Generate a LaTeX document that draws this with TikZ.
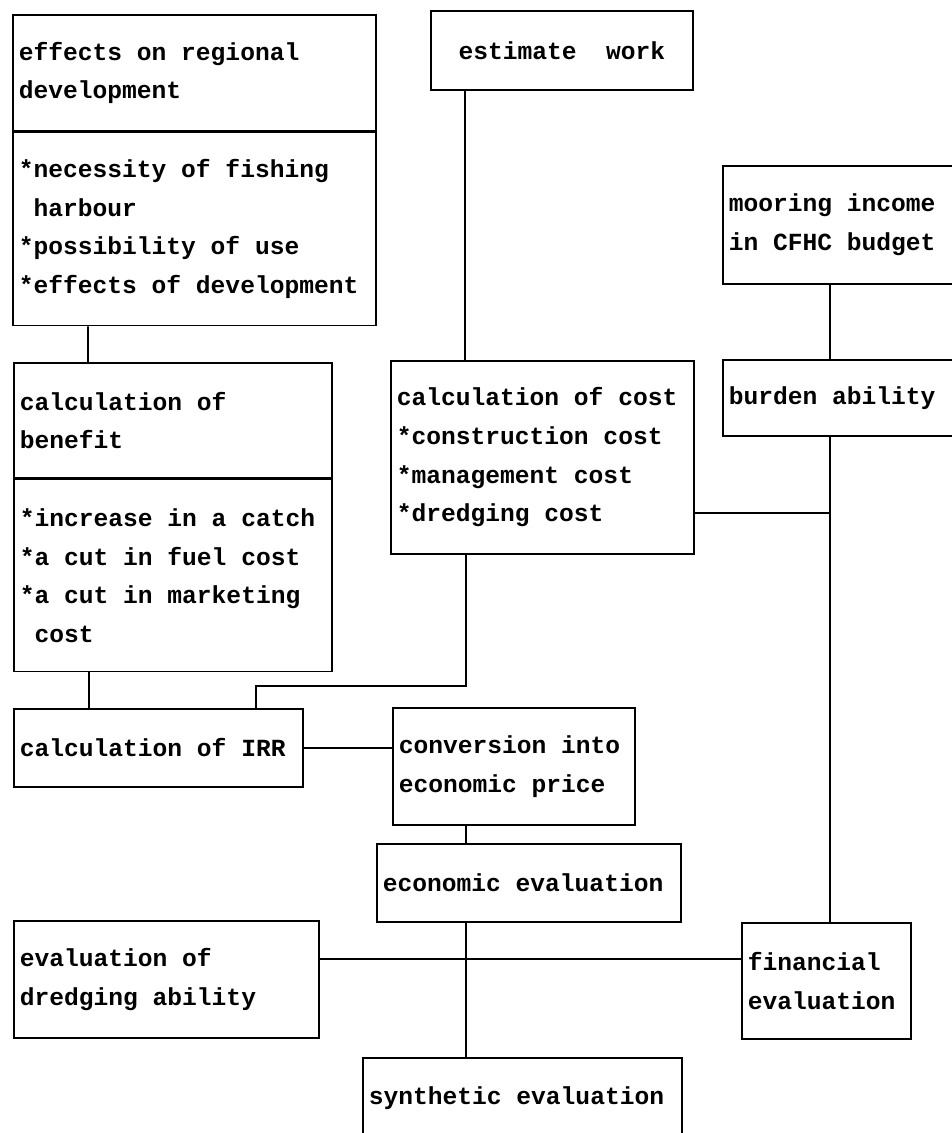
\documentclass[tikz,border=0pt]{standalone}
\usepackage{fontspec}
\setmonofont{Liberation Mono}
\usetikzlibrary{positioning}
\newcommand{\blkfont}{\ttfamily\bfseries\fontsize{14}{22}\selectfont\setlength{\spaceskip}{8.4pt}}
\tikzset{blk/.style={draw,line width=1pt,anchor=north west,align=flush left,inner xsep=0.12cm,inner ysep=0pt,
  font=\blkfont}}
\newcommand{\ind}{\phantom{*}}

\begin{document}
\begin{tikzpicture}[x=0.02cm,y=-0.02cm,line width=1pt]
\useasboundingbox (0,0) rectangle (952,1133);
\clip (0,0) rectangle (952,1133);

\node[blk,text width=7.02cm,minimum height=2.32cm] (efft) at (12,14) {effects on regional\\development};
\node[blk,text width=7.02cm,minimum height=3.86cm] (effi) [below=0pt of efft] {{*}necessity of fishing\\\ind harbour\\{*}possibility of use\\{*}effects of development};

\node[blk,text width=5.0cm,minimum height=1.58cm,align=flush center] (est) at (430,10) {estimate\ \ work};
\node[blk,text width=4.96cm,minimum height=2.36cm] (moor) at (722,165) {mooring income\\in CFHC budget};
\node[blk,text width=4.96cm,minimum height=1.52cm] (burd) at (722,359) {burden ability};

\node[blk,text width=5.82cm,minimum height=3.86cm] (cost) at (390,360) {calculation of cost\\{*}construction cost\\{*}management cost\\{*}dredging cost};

\node[blk,text width=6.12cm,minimum height=2.3cm] (bent) at (13,362) {calculation of\\benefit};
\node[blk,text width=6.12cm,minimum height=3.84cm] (beni) [below=0pt of bent] {{*}increase in a catch\\{*}a cut in fuel cost\\{*}a cut in marketing\\\ind cost};

\node[blk,text width=5.54cm,minimum height=1.56cm] (irr) at (13,708) {calculation of IRR};
\node[blk,text width=4.6cm,minimum height=2.34cm] (conv) at (392,707) {conversion into\\economic price};
\node[blk,text width=5.84cm,minimum height=1.56cm] (econ) at (376,843) {economic evaluation};
\node[blk,text width=5.86cm,minimum height=2.34cm] (dred) at (13,920) {evaluation of\\dredging ability};
\node[blk,text width=3.14cm,minimum height=2.32cm] (fin) at (741,922) {financial\\evaluation};
\node[blk,text width=6.14cm,minimum height=1.6cm] (syn) at (362,1057) {synthetic evaluation};

\coordinate (cw) at ([xshift=1.5cm]cost.north west);
\coordinate (fx) at ([xshift=1.78cm]fin.north west);
\coordinate (cr) at ([yshift=-3.06cm]cost.north east);
\coordinate (cs) at ([xshift=1.52cm]cost.south west);
\coordinate (ir) at ([xshift=4.86cm]irr.north west);
\coordinate (dr) at ([yshift=-0.78cm]dred.north east);
\coordinate (ec) at ([xshift=1.8cm]econ.south west);

\draw ([xshift=1.52cm]effi.south west) -- ([xshift=1.5cm]bent.north west);
\draw (cw) -- (cw |- est.south);
\draw (fx |- burd.north) -- (fx |- moor.south);
\draw (fx) -- (fx |- burd.south);
\draw (cr) -- (cr -| fx);
\draw ([xshift=1.52cm]beni.south west) -- ([xshift=1.52cm]irr.north west);
\draw (cs) |- ([yshift=0.44cm]ir) -- (ir);
\draw (irr.east) -- (irr.east -| conv.west);
\draw (ec |- conv.south) -- (ec |- econ.north);
\draw (ec) -- (ec |- syn.north);
\draw (dr) -- (dr -| fin.west);

\end{tikzpicture}
\end{document}
